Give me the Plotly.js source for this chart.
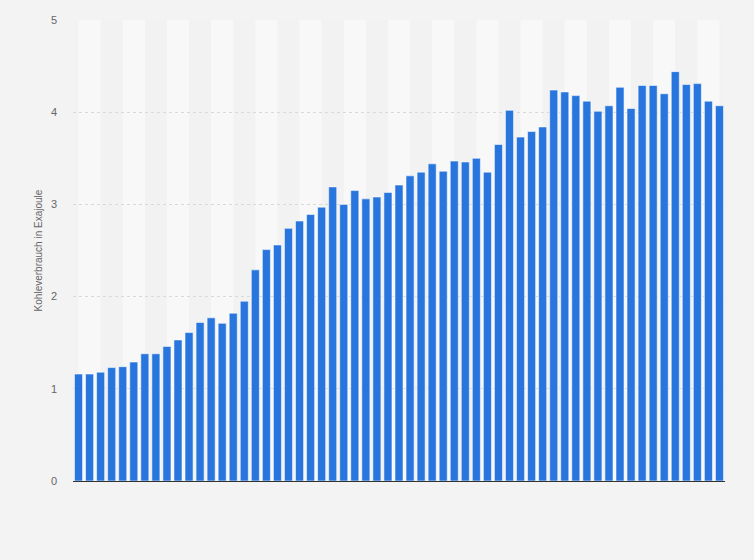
<!DOCTYPE html>
<html>
<head>
<meta charset="utf-8">
<script src="https://cdn.plot.ly/plotly-3.0.1.min.js"></script>
<style>
html,body{margin:0;padding:0;background:#f3f3f3;}
#chart{width:754px;height:560px;}
</style>
</head>
<body>
<div id="chart"></div>
<script>
const years = [1965,1966,1967,1968,1969,1970,1971,1972,1973,1974,1975,1976,1977,1978,1979,1980,1981,1982,1983,1984,1985,1986,1987,1988,1989,1990,1991,1992,1993,1994,1995,1996,1997,1998,1999,2000,2001,2002,2003,2004,2005,2006,2007,2008,2009,2010,2011,2012,2013,2014,2015,2016,2017,2018,2019,2020,2021,2022,2023];
const consumption = [1.16,1.16,1.18,1.23,1.24,1.29,1.38,1.38,1.46,1.53,1.61,1.72,1.77,1.71,1.82,1.95,2.29,2.51,2.56,2.74,2.82,2.89,2.97,3.19,3.00,3.15,3.06,3.08,3.13,3.21,3.31,3.35,3.44,3.36,3.47,3.46,3.50,3.35,3.65,4.02,3.73,3.79,3.84,4.24,4.22,4.18,4.12,4.01,4.07,4.27,4.04,4.29,4.29,4.20,4.44,4.30,4.31,4.12,4.07];
const yTicks = [0,1,2,3,4,5];
const yTitle = "Kohleverbrauch in Exajoule";

// alternating light background bands, two bars wide
const shapes = [];
for (let i = 0; i < years.length; i += 4) {
  const x0 = years[i];
  const x1 = (i + 2 < years.length) ? years[i + 2] : years[years.length - 1] + 0.5;
  shapes.push({type:'rect', xref:'x', yref:'paper', x0:x0, x1:x1, y0:0, y1:1,
    fillcolor:'#f8f8f8', line:{width:0}, layer:'below'});
}

const trace = {
  type:'bar',
  x: years,
  y: consumption,
  marker:{color:'#2876dd', line:{color:'rgba(255,255,255,0.55)', width:1}},
  hoverinfo:'x+y'
};

const layout = {
  width:754, height:560,
  margin:{l:73, r:29, t:20, b:79, pad:0},
  paper_bgcolor:'#f3f3f3',
  plot_bgcolor:'#f2f2f2',
  bargap:0.27,
  showlegend:false,
  font:{family:'"Liberation Sans", Arial, sans-serif', color:'#666666'},
  xaxis:{
    type:'linear',
    range:[years[0]-0.5, years[years.length-1]+0.5],
    showticklabels:false,
    ticks:'',
    showgrid:false,
    zeroline:false,
    showline:true,
    linecolor:'#333333',
    linewidth:1,
    fixedrange:true
  },
  yaxis:{
    range:[0,5],
    tickvals:yTicks,
    ticktext:yTicks.map(String),
    tickfont:{size:11, color:'#666666'},
    ticks:'',
    ticklabelstandoff:15,
    showgrid:true,
    gridcolor:'#d9d9d9',
    griddash:'dot',
    gridwidth:1,
    zeroline:false,
    showline:false,
    title:{text:yTitle, font:{size:10, color:'#666666'}, standoff:6},
    fixedrange:true
  },
  shapes:shapes
};

Plotly.newPlot('chart', [trace], layout, {displayModeBar:false, staticPlot:true});
</script>
</body>
</html>
